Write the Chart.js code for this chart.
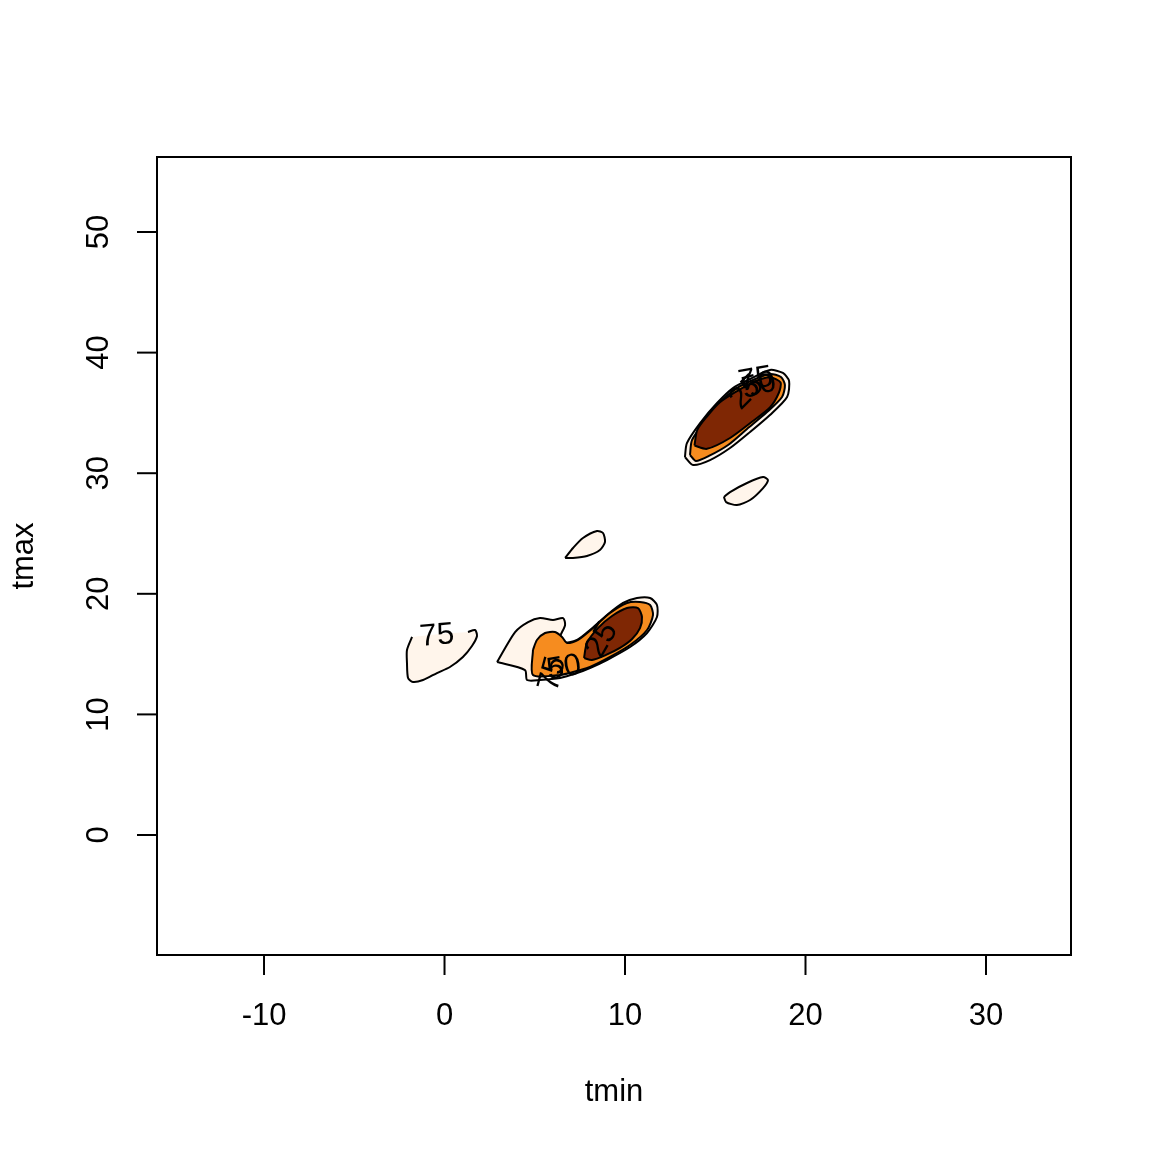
<!DOCTYPE html>
<html>
<head>
<meta charset="utf-8">
<script src="https://cdn.jsdelivr.net/npm/chart.js@4"></script>
<style>
  body { margin: 0; background: #fff; }
</style>
</head>
<body>
<canvas id="kdeCanvas" width="1152" height="1152"></canvas>
<script>
// axis ranges and ticks
const xRange = [-15.93, 34.71];
const yRange = [-9.95, 56.22];
const xTicks = [-10, 0, 10, 20, 30];
const yTicks = [0, 10, 20, 30, 40, 50];

// contour regions (tmin, tmax)
const upper75 = [[13.32,31.34],[13.43,32.50],[14.16,34.16],[15.10,35.82],[15.98,37.06],[16.93,37.81],[18.03,38.56],[18.75,38.31],[19.09,37.65],[18.98,36.32],[18.03,34.83],[16.93,33.42],[15.82,32.09],[14.71,31.09],[13.77,30.68]];
const upper50 = [[13.60,31.51],[13.71,32.75],[14.43,34.33],[15.26,35.90],[16.20,37.06],[17.09,37.73],[18.03,38.23],[18.64,37.98],[18.86,37.31],[18.70,36.32],[17.87,35.07],[16.76,33.67],[15.71,32.34],[14.65,31.43],[13.93,31.01]];
const upper25 = [[13.85,32.30],[14.54,32.02],[15.82,32.92],[17.09,34.33],[18.03,35.45],[18.52,36.65],[18.62,37.52],[18.03,37.95],[17.09,37.55],[16.20,36.80],[15.26,35.88],[14.54,34.70],[14.00,33.58]];
const islandA75 = [[15.48,28.03],[15.60,27.61],[16.20,27.36],[16.93,27.78],[17.65,28.77],[17.92,29.44],[17.65,29.68],[16.76,29.19],[15.82,28.44]];
const islandB75 = [[6.68,22.97],[7.12,23.80],[7.67,24.63],[8.45,25.21],[8.78,25.04],[8.89,24.30],[8.61,23.63],[7.89,23.13],[7.12,22.97]];
const left75 = [[-1.80,16.42],[-2.08,15.34],[-2.08,14.26],[-2.02,13.02],[-1.75,12.69],[-1.19,12.85],[-0.42,13.43],[0.30,13.93],[1.02,14.76],[1.52,15.67],[1.80,16.50],[1.69,17.00],[1.30,16.83],[-0.25,16.67]];
const lower75 = [[2.91,14.34],[3.91,16.83],[4.63,17.66],[5.29,17.99],[6.01,17.83],[6.57,17.99],[6.68,17.41],[6.40,16.42],[6.51,15.92],[7.34,16.17],[8.06,17.00],[9.00,18.24],[9.89,19.24],[10.66,19.65],[11.39,19.65],[11.77,19.07],[11.77,18.08],[11.22,16.75],[10.28,15.59],[9.00,14.51],[8.06,13.85],[7.34,13.43],[6.40,13.02],[5.29,12.85],[4.57,12.85],[4.46,13.68]];
const lower50 = [[4.90,15.34],[5.12,16.17],[5.57,16.75],[6.12,16.83],[6.51,16.42],[6.79,15.92],[7.40,16.17],[8.23,17.16],[9.17,18.41],[10.11,19.24],[10.83,19.32],[11.39,19.07],[11.55,18.24],[11.22,17.00],[10.28,15.75],[9.17,14.76],[8.06,13.93],[7.51,13.68],[6.40,13.27],[4.90,13.27]];
const lower25 = [[7.73,14.68],[7.89,15.92],[8.50,17.16],[9.28,18.16],[10.11,18.82],[10.72,18.82],[10.94,18.08],[10.83,17.16],[10.39,16.25],[9.72,15.51],[8.95,14.93],[8.17,14.51]];

// contour labels: text, tmin, tmax, angle (deg)
const labelText = ['75', '75', '50', '25', '75', '50', '25'];
const labelX = [-0.42, 6.0, 6.62, 8.73, 17.25, 17.42, 16.76];
const labelY = [16.50, 13.35, 13.85, 16.17, 37.75, 37.25, 36.70];
const labelAngle = [-5, -75, -10, -60, -10, -15, -45];

const light = '#FFF5EB';
const orange = '#F68C1F';
const brown = '#7F2704';

function pts(arr) {
    const p = arr.map(a => ({ x: a[0], y: a[1] }));
    p.push({ x: arr[0][0], y: arr[0][1] });
    return p;
}

function region(arr, colour, ord) {
    return {
        data: pts(arr),
        showLine: true,
        fill: 'shape',
        backgroundColor: colour,
        borderColor: '#000',
        borderWidth: 2,
        tension: 0.25,
        pointRadius: 0,
        order: ord
    };
}

// left blob line has a gap where its label sits
function openLine(arr, ord) {
    const p = arr.slice(0, arr.length - 1).map(a => ({ x: a[0], y: a[1] }));
    return {
        data: p,
        showLine: true,
        fill: false,
        borderColor: '#000',
        borderWidth: 2,
        tension: 0.25,
        pointRadius: 0,
        order: ord
    };
}

const leftFill = region(left75, light, 10);
leftFill.borderWidth = 0;

const axesPlugin = {
    id: 'rAxes',
    afterDraw(chart) {
        const ctx = chart.ctx;
        const a = chart.chartArea;
        const xs = chart.scales.x;
        const ys = chart.scales.y;
        ctx.save();
        ctx.strokeStyle = '#000';
        ctx.fillStyle = '#000';
        ctx.lineWidth = 2;
        ctx.strokeRect(a.left, a.top, a.right - a.left, a.bottom - a.top);
        ctx.font = '31px "Liberation Sans", Arial, sans-serif';
        ctx.textAlign = 'center';
        ctx.textBaseline = 'middle';
        xTicks.forEach(v => {
            const px = xs.getPixelForValue(v);
            ctx.beginPath();
            ctx.moveTo(px, a.bottom);
            ctx.lineTo(px, a.bottom + 20);
            ctx.stroke();
            ctx.fillText(String(v), px, 1016);
        });
        yTicks.forEach(v => {
            const py = ys.getPixelForValue(v);
            ctx.beginPath();
            ctx.moveTo(a.left, py);
            ctx.lineTo(a.left - 20, py);
            ctx.stroke();
            ctx.save();
            ctx.translate(99, py);
            ctx.rotate(-Math.PI / 2);
            ctx.fillText(String(v), 0, 0);
            ctx.restore();
        });
        ctx.fillText('tmin', 614, 1092);
        ctx.save();
        ctx.translate(24, 556);
        ctx.rotate(-Math.PI / 2);
        ctx.fillText('tmax', 0, 0);
        ctx.restore();

        // contour labels
        labelText.forEach((t, i) => {
            ctx.save();
            ctx.translate(xs.getPixelForValue(labelX[i]), ys.getPixelForValue(labelY[i]));
            ctx.rotate(labelAngle[i] * Math.PI / 180);
            ctx.fillText(t, 0, 0);
            ctx.restore();
        });
        ctx.restore();
    }
};

const kdeContext = document.getElementById('kdeCanvas').getContext('2d');

new Chart(kdeContext, {
    type: 'scatter',
    data: {
        datasets: [
            leftFill,
            openLine(left75, 1),
            region(lower75, light, 10),
            region(lower50, orange, 9),
            region(lower25, brown, 8),
            region(islandA75, light, 10),
            region(islandB75, light, 10),
            region(upper75, light, 10),
            region(upper50, orange, 9),
            region(upper25, brown, 8)
        ]
    },
    options: {
        responsive: false,
        devicePixelRatio: 1,
        animation: false,
        layout: {
            padding: { left: 157, right: 81, top: 157, bottom: 197 }
        },
        scales: {
            x: { type: 'linear', min: xRange[0], max: xRange[1], display: false },
            y: { type: 'linear', min: yRange[0], max: yRange[1], display: false }
        },
        plugins: {
            legend: { display: false },
            tooltip: { enabled: false }
        }
    },
    plugins: [axesPlugin]
});
</script>
</body>
</html>
